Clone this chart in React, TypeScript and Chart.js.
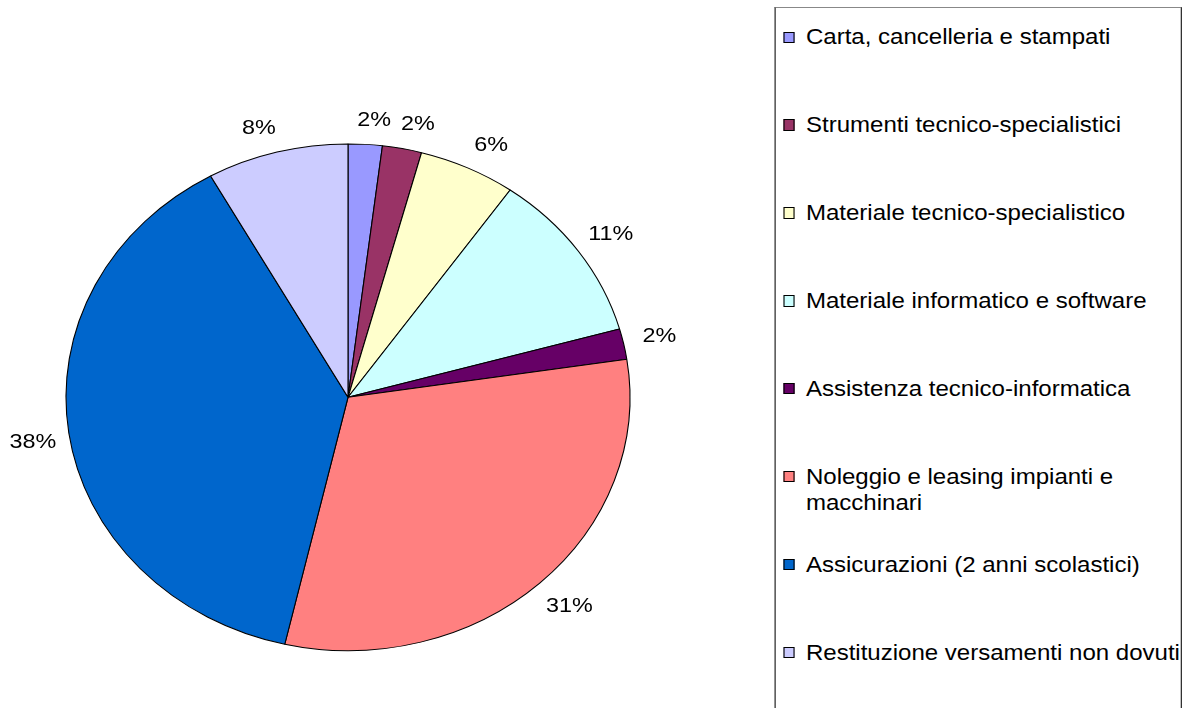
import React, { useEffect, useRef } from "react";
import { Chart, registerables } from "chart.js";

Chart.register(...registerables);

const categories: string[] = [
  "Carta, cancelleria e stampati",
  "Strumenti tecnico-specialistici",
  "Materiale tecnico-specialistico",
  "Materiale informatico e software",
  "Assistenza tecnico-informatica",
  "Noleggio e leasing impianti e\nmacchinari",
  "Assicurazioni (2 anni scolastici)",
  "Restituzione versamenti non dovuti",
];

const shares: number[] = [1.95, 2.25, 5.55, 10.9, 1.95, 31.0, 38.3, 8.1];

const colors: string[] = [
  "#9999FF",
  "#993366",
  "#FFFFCC",
  "#CCFFFF",
  "#660066",
  "#FF8080",
  "#0066CC",
  "#CCCCFF",
];

const FONT = "'Liberation Sans', Arial, Helvetica, sans-serif";
const SX = 282 / 253.4; // horizontal stretch of the original picture
const PIE_R = 253.4;
const CX = 348 / SX;
const CY = 397.3;
const CANVAS_W = 770;
const CANVAS_H = 708;

const stretchPlugin = {
  id: "stretch",
  beforeDraw(chart: any) {
    chart.ctx.save();
    chart.ctx.scale(SX, 1);
  },
  afterDraw(chart: any) {
    chart.ctx.restore();
  },
};

const labelPlugin = {
  id: "pctLabels",
  afterDatasetsDraw(chart: any) {
    const ctx = chart.ctx;
    const meta = chart.getDatasetMeta(0);
    const total = shares.reduce((a, b) => a + b, 0);
    const fs = 21;
    ctx.save();
    ctx.font = `${fs}px ${FONT}`;
    ctx.fillStyle = "#000";
    ctx.textAlign = "center";
    ctx.textBaseline = "alphabetic";
    meta.data.forEach((arc: any, i: number) => {
      const p = arc.getProps(["x", "y", "startAngle", "endAngle", "outerRadius"], true);
      const mid = (p.startAngle + p.endAngle) / 2;
      const text = Math.round((shares[i] / total) * 100) + "%";
      const c = Math.cos(mid);
      const s = Math.sin(mid);
      const x = p.x + p.outerRadius * c + (36 / SX) * Math.sign(c) * Math.sqrt(Math.abs(c));
      const y = p.y + p.outerRadius * s + 26 * Math.sign(s) * Math.pow(Math.abs(s), 0.65);
      ctx.fillText(text, x, y + (0.716 * fs) / 2);
    });
    ctx.restore();
  },
};

function Legend() {
  const boxLeft = 774 / SX;
  const boxRight = 1182 / SX;
  const boxTop = 6.5;
  const step = 87.9;
  const firstCenter = 37.2;
  return (
    <div
      style={{
        position: "absolute",
        left: 0,
        top: 0,
        width: 1184 / SX,
        height: 708,
        transform: `scaleX(${SX})`,
        transformOrigin: "0 0",
        pointerEvents: "none",
      }}
    >
      <div
        style={{
          position: "absolute",
          left: boxLeft,
          top: boxTop,
          width: boxRight - boxLeft,
          height: 800,
          boxSizing: "border-box",
          borderLeft: "1px solid #111",
          borderRight: "1px solid #111",
          borderTop: "1px solid #888",
          overflow: "hidden",
          background: "#fff",
        }}
      >
        {categories.map((cat, i) => {
          const yc = firstCenter + i * step - boxTop - 1;
          return (
            <div key={i}>
              <div
                style={{
                  position: "absolute",
                  left: 703.6 - boxLeft - 1,
                  top: yc - 5.7,
                  width: 10.2,
                  height: 11.4,
                  boxSizing: "border-box",
                  border: "1px solid #000",
                  background: colors[i],
                }}
              />
              <div
                style={{
                  position: "absolute",
                  left: 724.2 - boxLeft - 1,
                  top: yc - 13,
                  font: `21.6px ${FONT}`,
                  lineHeight: "26px",
                  color: "#000",
                  whiteSpace: "pre",
                }}
              >
                {cat}
              </div>
            </div>
          );
        })}
      </div>
    </div>
  );
}

export default function App() {
  const canvasRef = useRef<HTMLCanvasElement | null>(null);

  useEffect(() => {
    const canvas = canvasRef.current;
    if (!canvas) return;
    const chart = new Chart(canvas, {
      type: "pie",
      data: {
        labels: categories,
        datasets: [
          {
            data: shares,
            backgroundColor: colors,
            borderColor: "#000",
            borderWidth: 1,
            radius: PIE_R,
          } as any,
        ],
      },
      options: {
        responsive: false,
        maintainAspectRatio: false,
        animation: false,
        events: [],
        layout: {
          padding: {
            left: 0,
            right: CANVAS_W - 2 * CX,
            top: 2 * CY - CANVAS_H,
            bottom: 0,
          },
        },
        plugins: {
          legend: { display: false },
          tooltip: { enabled: false },
        },
      },
      plugins: [stretchPlugin, labelPlugin],
    });
    return () => chart.destroy();
  }, []);

  return (
    <div
      style={{
        position: "fixed",
        left: 0,
        top: 0,
        width: 1184,
        height: 708,
        background: "#fff",
        overflow: "hidden",
      }}
    >
      <canvas
        ref={canvasRef}
        width={CANVAS_W}
        height={CANVAS_H}
        style={{ position: "absolute", left: 0, top: 0, width: CANVAS_W, height: CANVAS_H }}
      />
      <Legend />
    </div>
  );
}
